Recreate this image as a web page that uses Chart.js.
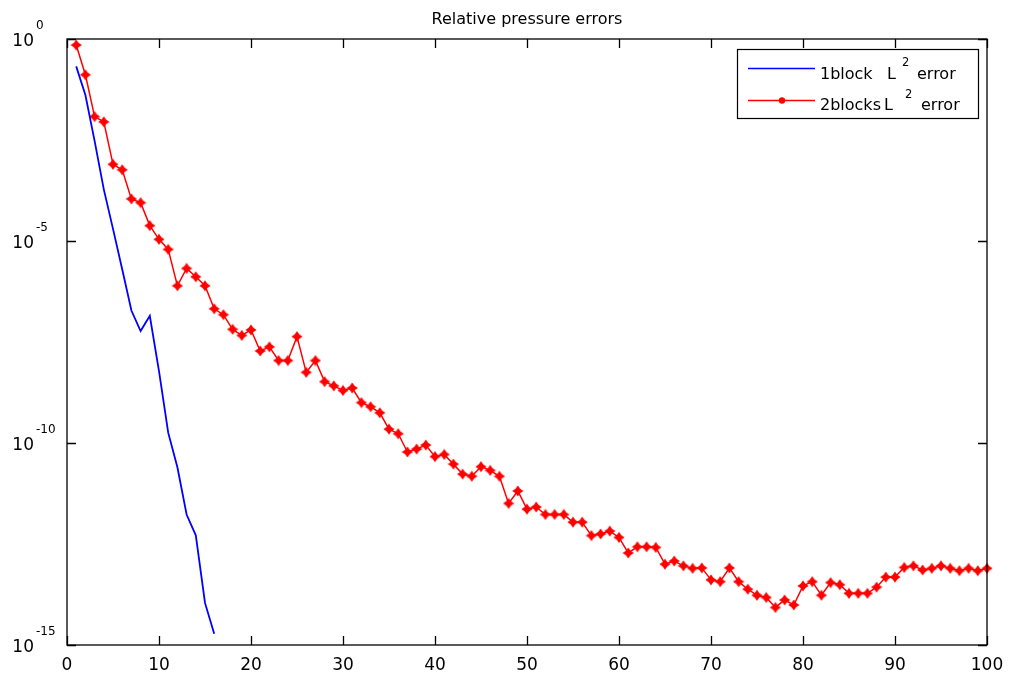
<!DOCTYPE html>
<html>
<head>
<meta charset="utf-8">
<title>Relative pressure errors</title>
<script src="https://cdn.jsdelivr.net/npm/chart.js@4/dist/chart.umd.min.js"></script>
<style>
  html, body { margin: 0; padding: 0; background: #ffffff; }
  #wrap { width: 1009px; height: 676px; }
</style>
</head>
<body>
<div id="wrap"><canvas id="chart" width="1009" height="676"></canvas></div>
<script>
// Relative L2 pressure error per iteration (iteration k is at index k-1)
const oneBlockErr = [
  2.1e-1, 4.1e-2, 3.0e-3, 1.9e-4, 2.0e-5, 2.0e-6, 1.9e-7, 5.9e-8,
  1.4e-7, 6.0e-9, 1.8e-10, 2.5e-11, 1.7e-12, 5.2e-13, 1.1e-14, 1.9e-15
];
const twoBlocksErr = [
  7.1e-1, 1.3e-1, 1.2e-2, 8.9e-3, 7.9e-4, 5.8e-4, 1.1e-4, 8.9e-5, 2.4e-5, 1.1e-5,
  6.2e-6, 7.8e-7, 2.1e-6, 1.3e-6, 7.8e-7, 2.1e-7, 1.5e-7, 6.5e-8, 4.6e-8, 6.3e-8,
  1.9e-8, 2.4e-8, 1.1e-8, 1.1e-8, 4.3e-8, 5.6e-9, 1.1e-8, 3.3e-9, 2.6e-9, 2.0e-9,
  2.3e-9, 1.0e-9, 7.9e-10, 5.6e-10, 2.2e-10, 1.7e-10, 6.0e-11, 7.1e-11, 8.9e-11, 4.6e-11,
  5.2e-11, 3.0e-11, 1.7e-11, 1.5e-11, 2.6e-11, 2.1e-11, 1.5e-11, 3.2e-12, 6.5e-12, 2.3e-12,
  2.6e-12, 1.7e-12, 1.7e-12, 1.7e-12, 1.1e-12, 1.1e-12, 5.1e-13, 5.6e-13, 6.6e-13, 4.6e-13,
  1.9e-13, 2.7e-13, 2.7e-13, 2.6e-13, 1.0e-13, 1.2e-13, 9.1e-14, 7.9e-14, 8.1e-14, 4.1e-14,
  3.7e-14, 8.1e-14, 3.7e-14, 2.4e-14, 1.7e-14, 1.5e-14, 8.5e-15, 1.3e-14, 9.8e-15, 2.9e-14,
  3.7e-14, 1.7e-14, 3.5e-14, 3.1e-14, 1.9e-14, 1.9e-14, 1.9e-14, 2.7e-14, 4.8e-14, 4.8e-14,
  8.3e-14, 9.1e-14, 7.2e-14, 7.9e-14, 9.1e-14, 7.9e-14, 6.9e-14, 7.9e-14, 6.9e-14, 7.9e-14
];

// Axis ticks
const xTickValues = [0, 10, 20, 30, 40, 50, 60, 70, 80, 90, 100];
const yTickValues = [1, 1e-5, 1e-10, 1e-15];
const yTickExponents = ['0', '-5', '-10', '-15'];

const titleText = 'Relative pressure errors';
const seriesNames = ['1block', '2blocks'];

const toPoints = arr => arr.map((v, i) => ({ x: i + 1, y: v }));

// Filled red star marker
function makeMarker(color) {
  const c = document.createElement('canvas');
  c.width = 12; c.height = 12;
  const g = c.getContext('2d');
  g.fillStyle = color;
  g.beginPath();
  for (let k = 0; k < 8; k++) {
    const a = k * Math.PI / 4 - Math.PI / 2;
    const r = (k % 2 === 0) ? 5.6 : 3.3;
    const px = 6 + r * Math.cos(a), py = 6 + r * Math.sin(a);
    if (k === 0) g.moveTo(px, py); else g.lineTo(px, py);
  }
  g.closePath();
  g.fill();
  return c;
}
const redMarker = makeMarker('#ff0000');

const FONT = '"DejaVu Sans", "Liberation Sans", Arial, sans-serif';

// Boxed axes with inward ticks, superscript tick labels, title and legend
const boxedAxes = {
  id: 'boxedAxes',
  afterDraw(chart) {
    const { ctx, chartArea: a, scales } = chart;
    const xs = scales.x, ys = scales.y;
    const tl = 9;
    ctx.save();
    ctx.strokeStyle = '#000000';
    ctx.lineWidth = 1.3;
    ctx.strokeRect(a.left, a.top, a.right - a.left, a.bottom - a.top);
    ctx.beginPath();
    xTickValues.forEach(v => {
      const px = Math.round(xs.getPixelForValue(v)) + 0.5;
      ctx.moveTo(px, a.bottom); ctx.lineTo(px, a.bottom - tl);
      ctx.moveTo(px, a.top); ctx.lineTo(px, a.top + tl);
    });
    yTickValues.forEach(v => {
      const py = Math.round(ys.getPixelForValue(v)) + 0.5;
      ctx.moveTo(a.left, py); ctx.lineTo(a.left + tl, py);
      ctx.moveTo(a.right, py); ctx.lineTo(a.right - tl, py);
    });
    ctx.stroke();

    ctx.fillStyle = '#000000';
    // x tick labels
    ctx.font = '17px ' + FONT;
    ctx.textAlign = 'center';
    ctx.textBaseline = 'alphabetic';
    xTickValues.forEach(v => {
      ctx.fillText(String(v), xs.getPixelForValue(v), a.bottom + 25);
    });
    // y tick labels: 10 with raised exponent
    yTickValues.forEach((v, i) => {
      const py = ys.getPixelForValue(v);
      ctx.font = '17px ' + FONT;
      ctx.textAlign = 'right';
      ctx.fillText('10', a.left - 33, py + 7);
      ctx.font = '12px ' + FONT;
      ctx.textAlign = 'left';
      ctx.fillText(yTickExponents[i], a.left - 31, py - 10);
    });

    // title
    ctx.font = '16px ' + FONT;
    ctx.textAlign = 'center';
    ctx.fillText(titleText, (a.left + a.right) / 2, 24);

    // legend
    const lx = 737.5, ly = 49.5, lw = 241, lh = 69;
    ctx.fillStyle = '#ffffff';
    ctx.fillRect(lx, ly, lw, lh);
    ctx.strokeStyle = '#000000';
    ctx.lineWidth = 1.2;
    ctx.strokeRect(lx, ly, lw, lh);

    const ds = chart.data.datasets;
    ctx.lineWidth = 1.5;
    ctx.strokeStyle = ds[0].borderColor;
    ctx.beginPath(); ctx.moveTo(748, 68.5); ctx.lineTo(815, 68.5); ctx.stroke();
    ctx.strokeStyle = ds[1].borderColor;
    ctx.beginPath(); ctx.moveTo(748, 100.5); ctx.lineTo(815, 100.5); ctx.stroke();
    ctx.fillStyle = ds[1].borderColor;
    ctx.beginPath(); ctx.arc(782, 100.5, 3.2, 0, Math.PI * 2); ctx.fill();

    ctx.fillStyle = '#000000';
    ctx.textAlign = 'left';
    ctx.font = '16px ' + FONT;
    ctx.fillText(seriesNames[0], 820, 79);
    ctx.fillText('L', 887, 79);
    ctx.fillText('error', 917, 79);
    ctx.fillText(seriesNames[1], 820, 110);
    ctx.fillText('L', 884, 110);
    ctx.fillText('error', 921, 110);
    ctx.font = '11.5px ' + FONT;
    ctx.fillText('2', 902, 66);
    ctx.fillText('2', 905, 98);
    ctx.restore();
  }
};

new Chart(document.getElementById('chart'), {
  type: 'line',
  data: {
    datasets: [
      {
        label: '1block L² error',
        data: toPoints(oneBlockErr),
        borderColor: '#0000ff',
        backgroundColor: '#0000ff',
        borderWidth: 1.8,
        pointRadius: 0,
        tension: 0,
        clip: false
      },
      {
        label: '2blocks L² error',
        data: toPoints(twoBlocksErr),
        borderColor: '#ff0000',
        backgroundColor: '#ff0000',
        borderWidth: 1.5,
        pointStyle: redMarker,
        pointRadius: 5,
        tension: 0,
        clip: false
      }
    ]
  },
  options: {
    responsive: false,
    animation: false,
    events: [],
    layout: { padding: { left: 67, right: 22, top: 39, bottom: 31 } },
    plugins: { legend: { display: false }, title: { display: false }, tooltip: { enabled: false } },
    scales: {
      x: { type: 'linear', min: 0, max: 100, display: false },
      y: { type: 'logarithmic', min: 1e-15, max: 1, display: false }
    }
  },
  plugins: [boxedAxes]
});
</script>
</body>
</html>
